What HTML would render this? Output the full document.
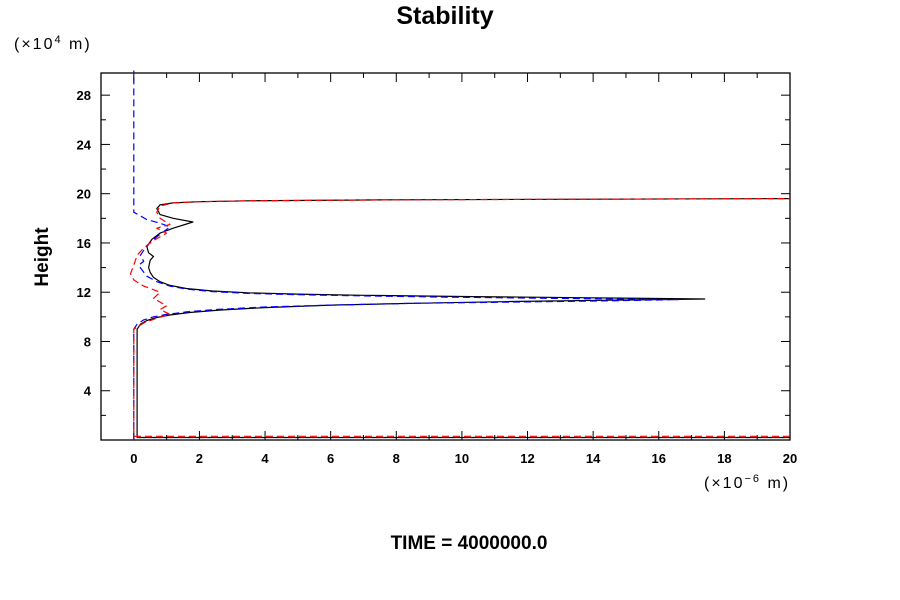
<!DOCTYPE html>
<html><head><meta charset="utf-8"><style>
body{margin:0;background:#fff;}
svg{display:block;font-family:"Liberation Sans",sans-serif;}
</style></head><body>
<svg id="chart" width="900" height="600">
<text x="445" y="24" text-anchor="middle" font-size="25" font-weight="bold">Stability</text>
<text x="14" y="49" font-size="16" letter-spacing="2">(×10<tspan dy="-6" font-size="11">4</tspan><tspan dy="6"> m)</tspan></text>
<text x="704" y="488" font-size="16" letter-spacing="2">(×10<tspan dy="-6" font-size="11">−6</tspan><tspan dy="6"> m)</tspan></text>
<text x="48" y="257" font-size="19" font-weight="bold" text-anchor="middle" transform="rotate(-90 48 257)">Height</text>
<text x="469" y="549" font-size="19" font-weight="bold" text-anchor="middle">TIME = 4000000.0</text>
<g id="axes"></g>
<g id="series"></g>
</svg>
<script>
const xTicks=[0,2,4,6,8,10,12,14,16,18,20];
const yTicks=[4,8,12,16,20,24,28];
const blackX=[20,0.1,0.1,0.2,0.4,0.7,1.1,1.7,2.6,4,6,8.5,11.5,14.5,17.4,14,10,7,5,3.5,2.4,1.6,1.1,0.8,0.6,0.5,0.45,0.5,0.6,0.45,0.4,0.55,0.8,1.2,1.8,1.2,0.8,0.7,0.8,1.2,2,3.5,8,20];
const blackY=[0.2,0.2,9,9.4,9.7,9.95,10.15,10.35,10.55,10.75,10.95,11.1,11.25,11.35,11.45,11.55,11.65,11.75,11.85,11.95,12.1,12.3,12.55,12.85,13.2,13.6,14,14.6,14.9,15.2,15.7,16.3,16.8,17.2,17.7,18,18.3,18.8,19.1,19.25,19.35,19.42,19.5,19.6];
const blueX=[0,0,0.1,0.3,0.6,1,1.6,2.5,4,6,8.5,11.5,14.5,16.6,13,9.5,7,5,3.5,2.4,1.6,1.1,0.7,0.4,0.25,0.15,0.3,0.2,0.4,0.7,1.1,0.8,0.4,0,0];
const blueY=[0,9,9.4,9.75,10,10.2,10.4,10.6,10.8,10.95,11.1,11.2,11.3,11.4,11.5,11.6,11.7,11.8,11.9,12.05,12.25,12.5,12.85,13.3,13.8,14.2,14.5,15,15.8,16.5,17.3,17.6,17.9,18.5,30];
const redX=[20,0,0,0.3,0.7,1.1,0.8,1,0.6,0.8,0.3,0,-0.1,0,0.1,0.3,0.6,1,0.7,1.1,0.8,0.7,0.8,1.2,2,3.5,8,20];
const redY=[0.3,0.3,9,9.5,9.9,10.2,10.6,10.9,11.5,12,12.5,13,13.5,14.2,15,15.6,16.2,16.8,17.2,17.5,18,18.5,19,19.25,19.35,19.42,19.5,19.6];
const L=101,R=790,T=73,B=440,xMin=-1,xMax=20,yMin=0,yMax=29.8;
const sx=v=>L+(v-xMin)/(xMax-xMin)*(R-L);
const sy=v=>B-(v-yMin)/(yMax-yMin)*(B-T);
const NS="http://www.w3.org/2000/svg";
const ax=document.getElementById('axes'),sg=document.getElementById('series');
function mk(tag,attrs,parent){const e=document.createElementNS(NS,tag);for(const k in attrs)e.setAttribute(k,attrs[k]);parent.appendChild(e);return e;}
const frame=mk('rect',{x:L,y:T,width:R-L,height:B-T,fill:'none',stroke:'#000','stroke-width':1.3},ax);


for(let v=-1;v<=20;v++){
  const major=v%2===0,len=major?9:5;
  mk('line',{x1:sx(v),x2:sx(v),y1:B,y2:B-len,stroke:'#000'},ax);
  mk('line',{x1:sx(v),x2:sx(v),y1:T,y2:T+len,stroke:'#000'},ax);
}
for(let v=2;v<=28;v+=2){
  const major=v%4===0,len=major?9:5;
  mk('line',{x1:L,x2:L+len,y1:sy(v),y2:sy(v),stroke:'#000'},ax);
  mk('line',{x1:R,x2:R-len,y1:sy(v),y2:sy(v),stroke:'#000'},ax);
}
xTicks.forEach(v=>{const t=mk('text',{x:sx(v),y:B+23,'text-anchor':'middle','font-size':13,'font-weight':'bold'},ax);t.textContent=v;

});
yTicks.forEach(v=>{const t=mk('text',{x:L-10,y:sy(v)+5,'text-anchor':'end','font-size':13,'font-weight':'bold'},ax);t.textContent=v;

});
function line(xs,ys,color,dash,name){
  const d=xs.map((x,i)=>(i?'L':'M')+sx(x).toFixed(1)+','+sy(ys[i]).toFixed(1)).join('');
  const p=mk('path',{d:d,fill:'none',stroke:color,'stroke-width':1.2,'stroke-linejoin':'round'},sg);
  if(dash)p.setAttribute('stroke-dasharray',dash);
  
  
}
line(blackX,blackY,'#000',null,'black-series');
line(blueX,blueY,'#0000ff','7,4','blue-series');
line(redX,redY,'#ff0000','7,4','red-series');
</script>
</body></html>
